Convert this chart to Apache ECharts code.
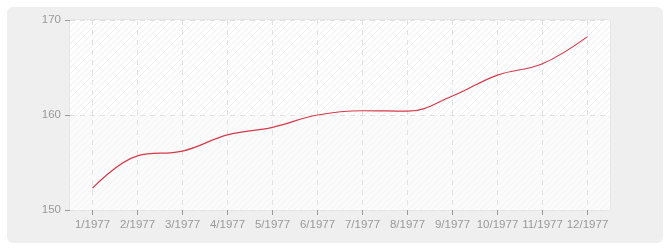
<!DOCTYPE html>
<html><head><meta charset="utf-8">
<script src="https://cdn.jsdelivr.net/npm/echarts@6/dist/echarts.min.js"></script>
<style>html,body{margin:0;padding:0;background:#fff}#c{width:670px;height:250px}</style>
</head><body><div id="c"></div>
<script>
var categories = ['1/1977','2/1977','3/1977','4/1977','5/1977','6/1977','7/1977','8/1977','9/1977','10/1977','11/1977','12/1977'];
var values = [152.3,155.7,156.2,157.9,158.7,160.0,160.45,160.4,162.0,164.2,165.4,168.25];
var yTicks = [150,160,170];

function hatch(bg, fg) {
  var pc = document.createElement('canvas');
  pc.width = 6; pc.height = 6;
  var g = pc.getContext('2d');
  g.fillStyle = bg; g.fillRect(0,0,6,6);
  g.strokeStyle = fg; g.lineWidth = 1;
  g.beginPath(); g.moveTo(0,6); g.lineTo(6,0); g.stroke();
  g.beginPath(); g.moveTo(-3,3); g.lineTo(3,-3); g.stroke();
  g.beginPath(); g.moveTo(3,9); g.lineTo(9,3); g.stroke();
  return {image: pc, repeat: 'repeat'};
}

var chart = echarts.init(document.getElementById('c'), null, {renderer:'canvas'});
var font = 'Liberation Sans';
chart.setOption({
  animation:false,
  graphic:[{type:'rect', z:-10, silent:true, shape:{x:7,y:7,width:656,height:236,r:6}, style:{fill:'#efefef'}}],
  grid:{left:70, top:20, width:540, height:190, show:true, backgroundColor:'#fcfcfc', borderColor:'#dddddd', borderWidth:1},
  xAxis:{type:'category', data:categories, boundaryGap:true,
    axisLine:{show:false},
    axisTick:{show:true, interval:0, alignWithLabel:true, length:5, lineStyle:{color:'#999'}},
    axisLabel:{color:'#999', fontFamily:font, fontSize:11.5, margin:9, interval:0},
    splitLine:{show:true, interval:0, alignWithLabel:true, lineStyle:{color:'#e2e2e2', type:[5,5]}}
  },
  yAxis:{type:'value', min:yTicks[0], max:yTicks[yTicks.length-1], interval:10,
    axisLine:{show:false},
    axisTick:{show:true, length:5, lineStyle:{color:'#999'}},
    axisLabel:{color:'#999', fontFamily:font, fontSize:11.5, margin:9},
    splitLine:{show:true, lineStyle:{color:'#e2e2e2', type:[5,5]}},
    splitArea:{show:true, areaStyle:{color:[hatch('#fbfbfb','#f4f4f4'), hatch('#ffffff','#eeeeee')]}}
  },
  series:[{type:'line', data:values, smooth:0.4, showSymbol:false, lineStyle:{color:'#d63a4a', width:1.2}}]
});
</script></body></html>
